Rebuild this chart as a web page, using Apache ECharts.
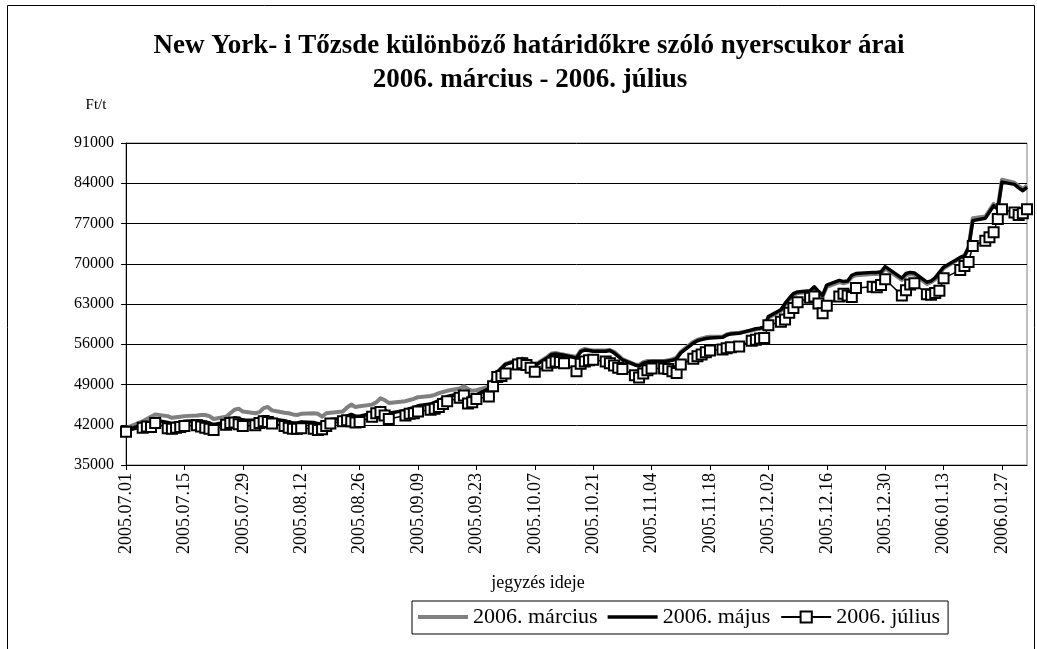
<!DOCTYPE html>
<html>
<head>
<meta charset="utf-8">
<script src="https://cdn.jsdelivr.net/npm/echarts@6/dist/echarts.min.js"></script>
<style>
html, body { margin: 0; padding: 0; background: #fff; }
#main { width: 1037px; height: 649px; }
</style>
</head>
<body>
<div id="main"></div>
<script>
// trading days (one week per line)
var tradeDates = [
  '2005.07.01',
  '2005.07.05', '2005.07.06', '2005.07.07', '2005.07.08',
  '2005.07.11', '2005.07.12', '2005.07.13', '2005.07.14', '2005.07.15',
  '2005.07.18', '2005.07.19', '2005.07.20', '2005.07.21', '2005.07.22',
  '2005.07.25', '2005.07.26', '2005.07.27', '2005.07.28', '2005.07.29',
  '2005.08.01', '2005.08.02', '2005.08.03', '2005.08.04', '2005.08.05',
  '2005.08.08', '2005.08.09', '2005.08.10', '2005.08.11', '2005.08.12',
  '2005.08.15', '2005.08.16', '2005.08.17', '2005.08.18', '2005.08.19',
  '2005.08.22', '2005.08.23', '2005.08.24', '2005.08.25', '2005.08.26',
  '2005.08.29', '2005.08.30', '2005.08.31', '2005.09.01', '2005.09.02',
  '2005.09.06', '2005.09.07', '2005.09.08', '2005.09.09',
  '2005.09.12', '2005.09.13', '2005.09.14', '2005.09.15', '2005.09.16',
  '2005.09.19', '2005.09.20', '2005.09.21', '2005.09.22', '2005.09.23',
  '2005.09.26', '2005.09.27', '2005.09.28', '2005.09.29', '2005.09.30',
  '2005.10.03', '2005.10.04', '2005.10.05', '2005.10.06', '2005.10.07',
  '2005.10.10', '2005.10.11', '2005.10.12', '2005.10.13', '2005.10.14',
  '2005.10.17', '2005.10.18', '2005.10.19', '2005.10.20', '2005.10.21',
  '2005.10.24', '2005.10.25', '2005.10.26', '2005.10.27', '2005.10.28',
  '2005.10.31', '2005.11.01', '2005.11.02', '2005.11.03', '2005.11.04',
  '2005.11.07', '2005.11.08', '2005.11.09', '2005.11.10', '2005.11.11',
  '2005.11.14', '2005.11.15', '2005.11.16', '2005.11.17', '2005.11.18',
  '2005.11.21', '2005.11.22', '2005.11.23', '2005.11.25',
  '2005.11.28', '2005.11.29', '2005.11.30', '2005.12.01', '2005.12.02',
  '2005.12.05', '2005.12.06', '2005.12.07', '2005.12.08', '2005.12.09',
  '2005.12.12', '2005.12.13', '2005.12.14', '2005.12.15', '2005.12.16',
  '2005.12.19', '2005.12.20', '2005.12.21', '2005.12.22', '2005.12.23',
  '2005.12.27', '2005.12.28', '2005.12.29', '2005.12.30',
  '2006.01.03', '2006.01.04', '2006.01.05', '2006.01.06',
  '2006.01.09', '2006.01.10', '2006.01.11', '2006.01.12', '2006.01.13',
  '2006.01.17', '2006.01.18', '2006.01.19', '2006.01.20',
  '2006.01.23', '2006.01.24', '2006.01.25', '2006.01.26', '2006.01.27',
  '2006.01.30', '2006.01.31', '2006.02.01', '2006.02.02'
];

var marcius = [
  41400,
  42600, 43000, 43400, 43800,
  43500, 43200, 43300, 43400, 43500,
  43600, 43700, 43700, 43500, 43000,
  43400, 44000, 44600, 44800, 44300,
  44000, 44200, 44900, 45100, 44500,
  44100, 44000, 43800, 43700, 43900,
  44000, 43900, 43400, 44000, 44100,
  44300, 45000, 45500, 45100, 45200,
  45500, 45900, 46600, 46300, 45800,
  46100, 46300, 46500, 46800,
  47000, 47200, 47500, 47700, 47900,
  48300, 48700, 48200, 47900, 48000,
  48600, 49900, 51200, 51900, 52600,
  53300, 53500, 53300, 52800, 52400,
  53800, 54400, 54500, 54300, 54200,
  53800, 54900, 55200, 55000, 54900,
  54900, 55000, 54700, 54100, 53400,
  52500, 52400, 52900, 53100, 53100,
  53100, 53200, 53400, 53700, 54700,
  56400, 56800, 57000, 57200, 57300,
  57300, 57700, 57900, 58000,
  58400, 58600, 58700, 58900, 60600,
  61800, 62900, 63800, 64600, 64900,
  65100, 65800, 65000, 64300, 66000,
  66800, 66600, 66800, 67700, 68000,
  68200, 68200, 68300, 69200,
  67200, 68000, 68200, 68100,
  66500, 66800, 67300, 68200, 69200,
  71000, 71300, 72800, 77900,
  78200, 79300, 80400, 79800, 84600,
  84100, 83500, 83000, 83600
];

var majus = [
  41000,
  42000, 42300, 42400, 42800,
  42400, 42200, 42300, 42400, 42600,
  42700, 42600, 42500, 42300, 42000,
  42500, 42900, 43200, 43100, 42800,
  42800, 43100, 43400, 43400, 43000,
  42700, 42500, 42300, 42300, 42500,
  42400, 42200, 42100, 42600, 42900,
  43100, 43500, 43800, 43500, 43500,
  44000, 44500, 45000, 44600, 44000,
  44500, 44800, 45000, 45300,
  45600, 45900, 46200, 46600, 46900,
  47400, 47800, 46900, 46800, 47200,
  48300, 49700, 51100, 51800, 52500,
  53200, 53400, 53100, 52600, 52300,
  53600, 54200, 54300, 54200, 54100,
  53600, 54700, 55000, 54900, 54800,
  54800, 54900, 54500, 53900, 53300,
  52400, 52200, 52700, 52900, 53000,
  53000, 53100, 53200, 53500, 54500,
  56200, 56600, 56800, 57000, 57100,
  57200, 57600, 57800, 57900,
  58500, 58700, 58800, 59000, 60800,
  62000, 63100, 64000, 64800, 65100,
  65300, 66000, 65200, 64500, 66300,
  67100, 66900, 67000, 68000, 68300,
  68500, 68500, 68600, 69500,
  67500, 68300, 68500, 68400,
  66800, 67000, 67600, 68500, 69400,
  71100, 71400, 72800, 77500,
  77900, 79000, 80100, 79500, 84200,
  83800, 83200, 82700, 83300
];

var julius = [
  40800,
  41500, 41700, 41600, 42300,
  41400, 41300, 41500, 41600, 41800,
  41900, 41700, 41500, 41300, 41100,
  42000, 42300, 42400, 42100, 41800,
  41900, 42300, 42600, 42500, 42200,
  41800, 41500, 41300, 41300, 41400,
  41300, 41100, 41200, 41800, 42200,
  42600, 42800, 42600, 42400, 42500,
  43400, 44000, 44200, 43600, 43000,
  43600, 43900, 44000, 44300,
  44600, 44800, 45100, 45600, 46100,
  46700, 47100, 45700, 45900, 46500,
  46900, 48700, 50300, 50500, 50900,
  52500, 52700, 52400, 51900, 51200,
  52300, 52800, 53000, 52900, 52700,
  51300, 52600, 53000, 53200, 53300,
  53000, 52700, 52300, 51900, 51700,
  50600, 50200, 50900, 51500, 51800,
  51800, 51700, 51300, 51000, 52500,
  53500, 53900, 54200, 54600, 54900,
  55100, 55300, 55500, 55600,
  56600, 56800, 57000, 57100, 59300,
  59900, 60300, 61500, 62300, 63300,
  64100, 64300, 63100, 61400, 62700,
  64300, 64800, 64500, 64200, 65800,
  66000, 65900, 66300, 67300,
  64500, 65400, 66400, 66600,
  64700, 64600, 64900, 65300, 67500,
  68900, 69600, 70300, 73100,
  74000, 74600, 75500, 77800, 79500,
  78900, 78500, 78800, 79500
];

var tickLabels = [
  '2005.07.01', '2005.07.15', '2005.07.29', '2005.08.12', '2005.08.26',
  '2005.09.09', '2005.09.23', '2005.10.07', '2005.10.21', '2005.11.04',
  '2005.11.18', '2005.12.02', '2005.12.16', '2005.12.30', '2006.01.13',
  '2006.01.27'
];
var axisStart = '2005.07.01';
var axisEnd = '2006.02.02';

function toTime(s) {
  var p = s.split('.');
  return Date.UTC(+p[0], +p[1] - 1, +p[2]);
}
var t0 = toTime(axisStart);
function dayOf(s) {
  return Math.round((toTime(s) - t0) / 86400000);
}
var labelByDay = {};
tickLabels.forEach(function (s) { labelByDay[dayOf(s)] = s; });

function pairs(values) {
  return values.map(function (v, i) { return [dayOf(tradeDates[i]), v]; });
}

var serif = '"Liberation Serif", "Times New Roman", serif';

var dom = document.getElementById('main');
var myChart = echarts.init(dom);
var option = {
  animation: false,
  backgroundColor: '#fff',
  textStyle: { fontFamily: serif, color: '#000' },
  grid: {
    left: 126, right: 10, top: 143, bottom: 184,
    containLabel: false,
    show: true, borderColor: '#808080', borderWidth: 1
  },
  graphic: [
    {
      type: 'rect', silent: true, z: -1,
      shape: { x: 7.5, y: 5.5, width: 1027, height: 650 },
      style: { fill: null, stroke: '#000', lineWidth: 1 }
    },
    {
      type: 'text', x: 529, y: 46,
      style: {
        text: 'New York- i Tőzsde különböző határidőkre szóló nyerscukor árai',
        font: 'bold 27px ' + serif, fill: '#000',
        align: 'center', verticalAlign: 'middle'
      }
    },
    {
      type: 'text', x: 530, y: 80,
      style: {
        text: '2006. március - 2006. július',
        font: 'bold 27px ' + serif, fill: '#000',
        align: 'center', verticalAlign: 'middle'
      }
    },
    {
      type: 'text', x: 96, y: 105,
      style: {
        text: 'Ft/t', font: '15px ' + serif, fill: '#000',
        align: 'center', verticalAlign: 'middle'
      }
    },
    {
      type: 'text', x: 538, y: 583,
      style: {
        text: 'jegyzés ideje', font: '18px ' + serif, fill: '#000',
        align: 'center', verticalAlign: 'middle'
      }
    }
  ],
  legend: {
    left: 412, top: 601,
    padding: [5, 8, 6, 6],
    itemGap: 10,
    itemWidth: 50, itemHeight: 14,
    borderColor: '#000', borderWidth: 1,
    textStyle: { fontFamily: serif, fontSize: 22, color: '#000' },
    data: [
      { name: '2006. március', icon: 'path://M0,0H50V4H0Z' },
      { name: '2006. május', icon: 'path://M0,0H50V3.5H0Z' },
      { name: '2006. július' }
    ]
  },
  xAxis: {
    type: 'value',
    min: 0, max: dayOf(axisEnd),
    axisLine: { lineStyle: { color: '#000', width: 1 } },
    axisTick: { length: 5, lineStyle: { color: '#000' },
      customValues: tickLabels.map(dayOf) },
    splitLine: { show: false },
    axisLabel: {
      customValues: tickLabels.map(dayOf),
      rotate: 90, margin: 8,
      fontFamily: serif, fontSize: 18, color: '#000',
      formatter: function (v) { return labelByDay[v] || ''; }
    }
  },
  yAxis: {
    type: 'value',
    min: 35000, max: 91000, interval: 7000,
    axisLine: { show: true, lineStyle: { color: '#000', width: 1 } },
    axisTick: { show: true, length: 5, lineStyle: { color: '#000' } },
    splitLine: { lineStyle: { color: '#000', width: 1 } },
    axisLabel: {
      margin: 12, fontFamily: serif, fontSize: 16, color: '#000',
      formatter: function (v) { return String(v); }
    }
  },
  series: [
    {
      name: '2006. március', type: 'line',
      data: pairs(marcius),
      symbol: 'none',
      lineStyle: { color: '#808080', width: 4, join: 'round' },
      itemStyle: { color: '#808080' }
    },
    {
      name: '2006. május', type: 'line',
      data: pairs(majus),
      symbol: 'none',
      lineStyle: { color: '#000', width: 3.5, join: 'round' },
      itemStyle: { color: '#000' }
    },
    {
      name: '2006. július', type: 'line',
      data: pairs(julius),
      symbol: 'rect', symbolSize: 10,
      showSymbol: true, showAllSymbol: true,
      lineStyle: { color: '#000', width: 1.5 },
      itemStyle: { color: '#fff', borderColor: '#000', borderWidth: 2 }
    }
  ]
};

if (option && typeof option === 'object') {
  myChart.setOption(option, true);
}
</script>
</body>
</html>
